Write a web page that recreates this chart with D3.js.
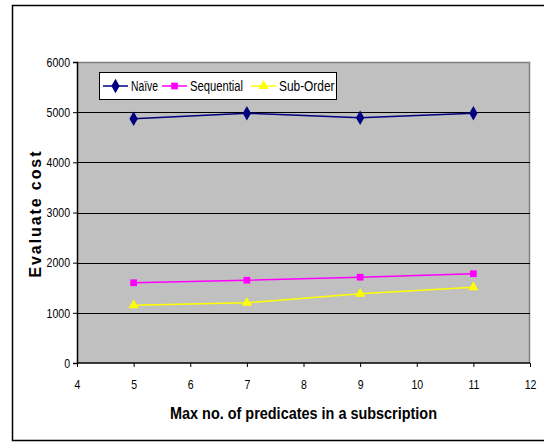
<!DOCTYPE html>
<html><head><meta charset="utf-8">
<script src="https://cdn.jsdelivr.net/npm/d3@7"></script>
<style>body{margin:0;background:#fff}svg{display:block}</style>
</head><body>
<script>
const xValues = [5, 7, 9, 11];
const naive = [4870, 4980, 4890, 4980];
const sequential = [1600, 1650, 1710, 1780];
const subOrder = [1150, 1200, 1380, 1510];
const seriesNames = ["Naïve", "Sequential", "Sub-Order"];
const seriesColors = ["#000080", "#FF00FF", "#FFFF00"];
const xTicks = [4,5,6,7,8,9,10,11,12];
const yTicks = [0,1000,2000,3000,4000,5000,6000];

const W = 544, H = 445;
const svg = d3.select("body").append("svg").attr("width", W).attr("height", H);
svg.append("rect").attr("width", W).attr("height", H).attr("fill", "#fff");
svg.append("path").attr("d", `M544,5.5 H12.5 V440.5 H544`).attr("fill","none").attr("stroke","#000").attr("stroke-width",1.5);

const L = 77, R = 530, T = 62, B = 363;
const x = d3.scaleLinear().domain([4,12]).range([L,R]);
const y = d3.scaleLinear().domain([0,6000]).range([B,T]);

svg.append("rect").attr("x",L).attr("y",T).attr("width",R-L).attr("height",B-T).attr("fill","#C0C0C0");
svg.append("path").attr("d",`M${L},${T+0.5} H${R-0.5} V${B}`).attr("fill","none").attr("stroke","#808080").attr("stroke-width",1.5);

svg.append("g").selectAll("line").data(yTicks.filter(d=>d>0&&d<6000)).join("line")
  .attr("x1",L).attr("x2",R).attr("y1",d=>Math.round(y(d))+0.5).attr("y2",d=>Math.round(y(d))+0.5)
  .attr("stroke","#000").attr("stroke-width",1);

const font = "'Liberation Sans', Arial, sans-serif";
function condense(sel, f){
  sel.each(function(){
    const len = this.getComputedTextLength();
    d3.select(this).attr("textLength", len*f).attr("lengthAdjust","spacingAndGlyphs");
  });
}
const yAxis = svg.append("g").attr("transform",`translate(${L},0)`)
  .call(d3.axisLeft(y).tickValues(yTicks).tickSize(4).tickPadding(3).tickFormat(d3.format("d")));
const xAxis = svg.append("g").attr("transform",`translate(0,${B})`)
  .call(d3.axisBottom(x).tickValues(xTicks).tickSize(4).tickPadding(12).tickFormat(d3.format("d")));
[yAxis,xAxis].forEach(g=>{
  g.selectAll("text").attr("font-family",font).attr("font-size",13.5).attr("fill","#000");
  condense(g.selectAll("text"), 0.78);
  g.selectAll("line").attr("stroke","#000");
  g.select(".domain").attr("stroke","#000").attr("stroke-width",1.5);
});
xAxis.select(".domain").attr("d",`M${L},0H${R}`);
xAxis.selectAll(".tick line").attr("y1",0);

svg.append("text").attr("x",303.5).attr("y",419).attr("text-anchor","middle")
  .attr("font-family",font).attr("font-weight","bold").attr("font-size",16.5)
  .attr("textLength",267).attr("lengthAdjust","spacingAndGlyphs").text("Max no. of predicates in a subscription");
svg.append("text").attr("transform",`translate(41,${(T+B)/2+2}) rotate(-90)`).attr("text-anchor","middle")
  .attr("font-family",font).attr("font-weight","bold").attr("font-size",16)
  .attr("textLength",126).attr("lengthAdjust","spacing").text("Evaluate cost");

const data = [naive, sequential, subOrder];
const line = d3.line().x((d,i)=>x(xValues[i])).y(d=>y(d));
const symbols = [d3.symbolDiamond, d3.symbolSquare, d3.symbolTriangle];
const sizes = [60, 45, 45];
data.forEach((vals,k)=>{
  svg.append("path").datum(vals).attr("d",line).attr("fill","none").attr("stroke",seriesColors[k]).attr("stroke-width",1.5);
  svg.append("g").selectAll("path").data(vals).join("path")
    .attr("transform",(d,i)=>`translate(${x(xValues[i])},${y(d)})`)
    .attr("d",d3.symbol(symbols[k],sizes[k]))
    .attr("fill",seriesColors[k]);
});

const lg = svg.append("g");
lg.append("rect").attr("x",99.5).attr("y",72.5).attr("width",237).attr("height",27).attr("fill","#fff").attr("stroke","#000").attr("stroke-width",1);
const legX = [103, 162, 251];
const legTextW = [27, 53, 55.5];
seriesNames.forEach((n,k)=>{
  const lx = legX[k], ly = 86;
  lg.append("line").attr("x1",lx).attr("x2",lx+25).attr("y1",ly).attr("y2",ly).attr("stroke",seriesColors[k]).attr("stroke-width",1.5);
  lg.append("path").attr("transform",`translate(${lx+12.5},${ly})`).attr("d",d3.symbol(symbols[k],sizes[k])).attr("fill",seriesColors[k]);
  lg.append("text").attr("x",lx+28).attr("y",ly+5).attr("font-family",font).attr("font-size",14)
    .attr("textLength",legTextW[k]).attr("lengthAdjust","spacingAndGlyphs").text(n);
});
</script>
</body></html>
